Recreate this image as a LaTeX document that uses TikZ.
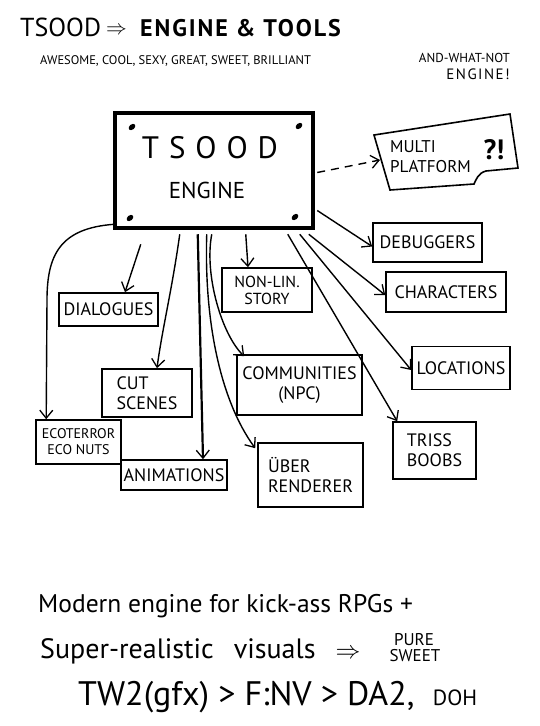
\documentclass[tikz,border=0pt]{standalone}
\usepackage{fontspec}
\setmainfont{PT Sans}
\usetikzlibrary{arrows.meta,calc}
\begin{document}
\begin{tikzpicture}[x=1pt,y=-1pt,
  box/.style={draw,line width=1.6pt,inner sep=2pt,align=center,font=\fontsize{18}{20}\selectfont},
  smallbox/.style={box,font=\fontsize{14}{16}\selectfont},
  conn/.style={line width=1.4pt,-{Straight Barb[length=8pt,width=13pt,line width=1.3pt]}},
  txt/.style={inner sep=0pt},
]
\useasboundingbox (0,0) rectangle (540,726);
\fill[white] (0,0) rectangle (540,726);

% title
\node[txt,anchor=base west,font=\fontsize{26}{26}\selectfont] (t1) at (20,36) {TSOOD};
\node[txt,anchor=base west,font=\fontsize{22}{22}\selectfont] (t2) at (106,34) {$\Rightarrow$};
\node[txt,anchor=base west,font=\fontsize{24}{24}\selectfont\bfseries\addfontfeature{LetterSpace=8}] (t3) at (140,36) {ENGINE \& TOOLS};
\node[txt,anchor=base west,font=\fontsize{12.5}{14}\selectfont] (sub1) at (40,64) {AWESOME, COOL, SEXY, GREAT, SWEET, BRILLIANT};
\node[txt,anchor=base east,font=\fontsize{13}{14}\selectfont] (sub2) at (510,62) {AND-WHAT-NOT};
\node[txt,anchor=base east,font=\fontsize{15}{15}\selectfont\addfontfeature{LetterSpace=10}] (sub3) at (510,79) {ENGINE!};

% engine
\node[draw,line width=4.5pt,minimum width=198pt,minimum height=115pt] (engine) at (214,170.5) {};
\draw[line width=3pt] ($(engine.north east)+(-2,0)$) -- ($(engine.south east)+(-2,0)$);
\node[txt,font=\fontsize{31}{31}\selectfont\addfontfeature{LetterSpace=32}] (englbl1) at (210,148) {TSOOD};
\node[txt,font=\fontsize{23}{23}\selectfont] (englbl2) at (207,190) {ENGINE};
\foreach \x/\y in {132/127,299/126,130/218,295/217}
  \fill[shift={(\x,\y)},rotate=40] (0,0) ellipse [x radius=3.8, y radius=2.6];

% multi platform bubble
\draw[line width=1.6pt] (374,135) -- (510,114) -- (518,168) -- (486,171)
  .. controls (478,173) and (476,180) .. (474,184) -- (390,190) -- cycle;
\node[txt,anchor=west,align=left,font=\fontsize{17}{20}\selectfont] (multi) at (390,157) {MULTI\\PLATFORM};
\node[txt,font=\fontsize{28}{28}\selectfont\bfseries] (qm) at (494,150) {?!};

% boxes
\node[box,minimum width=109pt,minimum height=39pt] (debug) at (427.5,242.5) {DEBUGGERS};
\node[box,minimum width=120pt,minimum height=40pt] (char) at (446,292) {CHARACTERS};
\node[box,minimum width=98pt,minimum height=43pt] (loc) at (461,368) {LOCATIONS};
\node[box,minimum width=83pt,minimum height=57pt,align=left] (triss) at (434.5,450.5) {TRISS\\BOOBS};
\node[box,minimum width=125pt,minimum height=60pt] (comm) at (299.5,385) {COMMUNITIES\\(NPC)};
\node[box,minimum width=105pt,minimum height=64pt,align=left] (uber) at (310.5,475) {ÜBER\\RENDERER};
\node[box,font=\fontsize{16}{17}\selectfont,minimum width=90pt,minimum height=44pt] (nonlin) at (267,290) {NON-LIN.\\STORY};
\node[box,minimum width=99pt,minimum height=33pt] (dial) at (108.5,309.5) {DIALOGUES};
\node[box,minimum width=90pt,minimum height=48pt,align=left] (cut) at (147,393) {CUT\\SCENES};
\node[smallbox,minimum width=85pt,minimum height=44pt] (eco) at (78.5,442) {ECOTERROR\\ECO NUTS};
\node[box,minimum width=106pt,minimum height=30pt] (anim) at (174,475) {ANIMATIONS};

% connectors
\draw[conn] ($(engine.south west)+(2,-6)$) .. controls (60,228) and (47,255) .. (47,300) -- ($(eco.north west)+(11,0)$);
\draw[conn] ($(engine.south west)+(28,14)$) -- ($(dial.north)+(16.5,0)$);
\draw[conn] ($(engine.south west)+(67,4)$) .. controls (172,290) and (162,330) .. ($(cut.north)+(10,0)$);
\draw[conn,line width=2.2pt] ($(engine.south west)+(85,4)$) -- ($(anim.north)+(29,0)$);
\draw[conn] ($(engine.south west)+(94,4)$) .. controls (204,320) and (220,400) .. ($(uber.north west)+(-2,6)$);
\draw[conn] ($(engine.south west)+(99,4)$) .. controls (204,275) and (222,335) .. ($(comm.north west)+(8,2)$);
\draw[conn] ($(engine.south west)+(133,4)$) -- ($(nonlin.north)+(-19,0)$);
\draw[conn] ($(engine.south west)+(175,4)$) -- ($(triss.north west)+(5,0)$);
\draw[conn] ($(engine.south west)+(187,4)$) -- ($(loc.west)+(0,2)$);
\draw[conn] ($(engine.south west)+(196,4)$) -- ($(char.west)+(0,3)$);
\draw[conn] ($(engine.east)+(2,40)$) -- ($(debug.west)+(0,4)$);
\draw[conn,dashed,dash pattern=on 8pt off 6pt] ($(engine.east)+(2,2)$) -- ($(multi.west)+(-10,3)$);

% bottom text
\node[txt,anchor=base west,font=\fontsize{25.5}{26}\selectfont] (b1) at (38,612) {Modern engine for kick-ass RPGs +};
\node[txt,anchor=base west,font=\fontsize{28}{26}\selectfont] (b2) at (40,658) {\spaceskip=20pt Super-realistic visuals $\Rightarrow$};
\node[txt,anchor=base,font=\fontsize{17}{17}\selectfont] (b3) at (414,645) {PURE};
\node[txt,anchor=base,font=\fontsize{17}{17}\selectfont] (b4) at (415,661) {SWEET};
\node[txt,anchor=base west,font=\fontsize{34}{34}\selectfont] (b5) at (78,705) {TW2(gfx) > F:NV > DA2,};
\node[txt,anchor=base west,font=\fontsize{22}{22}\selectfont] (b6) at ($(b5.base east)+(18,0)$) {DOH};
\end{tikzpicture}
\end{document}
